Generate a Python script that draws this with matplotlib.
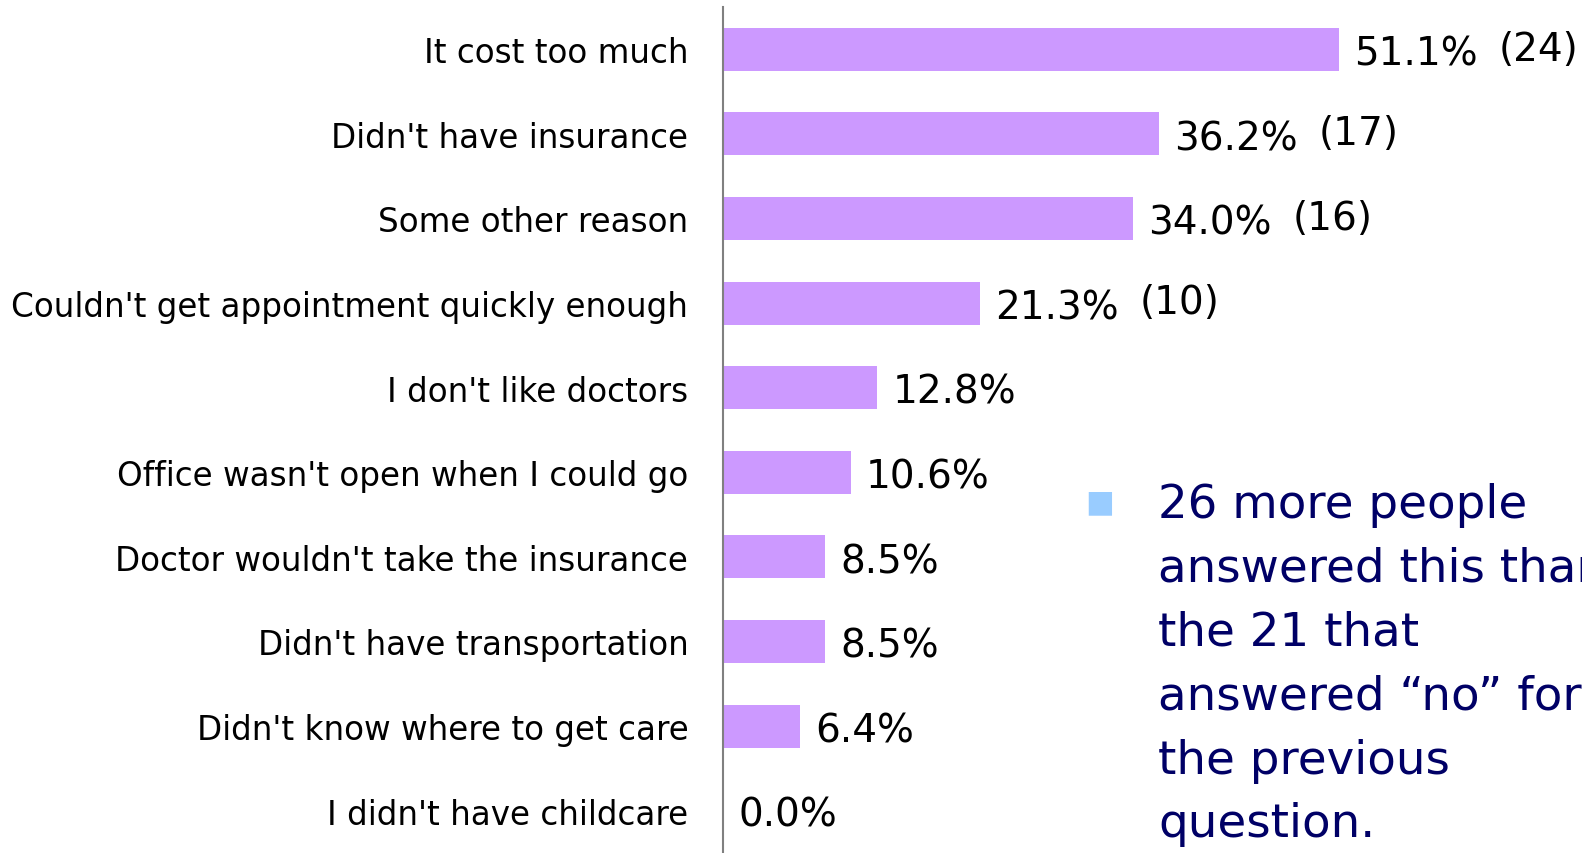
import matplotlib.pyplot as plt

# survey answers, top to bottom
reasons = ["It cost too much", "Didn't have insurance", "Some other reason",
           "Couldn't get appointment quickly enough", "I don't like doctors",
           "Office wasn't open when I could go", "Doctor wouldn't take the insurance",
           "Didn't have transportation", "Didn't know where to get care",
           "I didn't have childcare"]
pct = [51.1, 36.2, 34.0, 21.3, 12.8, 10.6, 8.5, 8.5, 6.4, 0.0]
counts = [24, 17, 16, 10, None, None, None, None, None, None]

note = "26 more people\nanswered this than\nthe 21 that\nanswered \u201cno\u201d for\nthe previous\nquestion."

plt.rcParams['font.family'] = ['DejaVu Sans']

fig = plt.figure(figsize=(15.82, 8.54), dpi=100)
ax = fig.add_axes([723 / 1582, 0, 1 - 723 / 1582, 1 - 8 / 854])

ypos = list(range(len(reasons)))
ax.barh(ypos, pct, height=0.51, color='#CC99FF')
ax.set_ylim(len(reasons) - 0.5, -0.5)
ax.set_xlim(0, 71.3)

for sp in ['top', 'right', 'bottom']:
    ax.spines[sp].set_visible(False)
ax.spines['left'].set_color('#808080')
ax.spines['left'].set_linewidth(1.5)
ax.set_xticks([])
ax.set_yticks(ypos)
ax.set_yticklabels(reasons, fontsize=23.5)
ax.tick_params(axis='y', length=0, pad=25)

for i, (p, c) in enumerate(zip(pct, counts)):
    t = ax.annotate(f"{p:.1f}%", xy=(p, i), xytext=(11, -3), textcoords='offset points',
                    va='center', ha='left', fontsize=28)
    if c is not None:
        ax.annotate(f"({c})", xy=(1, 0.5), xycoords=t, xytext=(15, 3.5),
                    textcoords='offset points', va='center', ha='left', fontsize=28)

# side note with bullet
fig.text(1085 / 1582, 1 - 503 / 854, "\u25A0", color='#99CCFF', fontsize=22,
         va='center', ha='left')
fig.text(1158 / 1582, 1 - 483 / 854, note, color='#000066', fontsize=33.7,
         va='top', ha='left', linespacing=1.54)

fig.savefig('out.png', dpi=100)
